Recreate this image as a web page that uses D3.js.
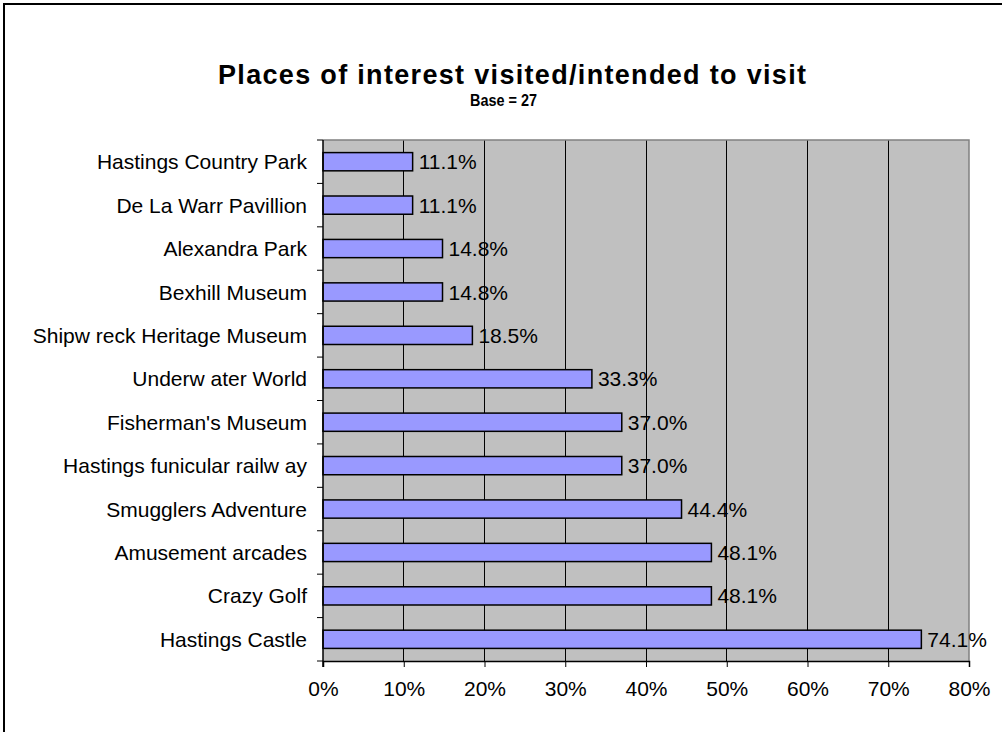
<!DOCTYPE html>
<html>
<head>
<meta charset="utf-8">
<script src="https://cdn.jsdelivr.net/npm/d3@7"></script>
<style>
  html, body { margin: 0; padding: 0; background: #ffffff; }
  svg { display: block; }
  text { font-family: "Liberation Sans", Arial, sans-serif; }
</style>
</head>
<body>
<svg id="chart" width="1002" height="732"></svg>
<script>
const titleText = "Places of interest visited/intended to visit";
const subtitleText = "Base = 27";
const categories = [
  "Hastings Country Park",
  "De La Warr Pavillion",
  "Alexandra Park",
  "Bexhill Museum",
  "Shipw reck Heritage Museum",
  "Underw ater World",
  "Fisherman's Museum",
  "Hastings funicular railw ay",
  "Smugglers Adventure",
  "Amusement arcades",
  "Crazy Golf",
  "Hastings Castle"
];
const values = [11.1, 11.1, 14.8, 14.8, 18.5, 33.3, 37.0, 37.0, 44.4, 48.1, 48.1, 74.1];
const xTicks = [0, 10, 20, 30, 40, 50, 60, 70, 80];

const svg = d3.select("#chart");
const plot = { left: 323, right: 969, top: 140, bottom: 661 };

// outer frame (only top & left edges visible)
svg.append("rect")
  .attr("x", 4).attr("y", 4)
  .attr("width", 1200).attr("height", 1200)
  .attr("fill", "none").attr("stroke", "#000").attr("stroke-width", 2);

// title
svg.append("text")
  .attr("x", 218).attr("y", 84)
  .attr("font-size", 27).attr("font-weight", "bold")
  .attr("textLength", 588).attr("lengthAdjust", "spacing")
  .text(titleText);
svg.append("text")
  .attr("x", 470).attr("y", 106)
  .attr("font-size", 17).attr("font-weight", "bold")
  .attr("textLength", 67).attr("lengthAdjust", "spacingAndGlyphs")
  .text(subtitleText);

const x = d3.scaleLinear().domain([0, 80]).range([plot.left, plot.right]);
const y = d3.scaleBand().domain(categories).range([plot.top, plot.bottom]).paddingInner(0.58).paddingOuter(0.29);
const yb = d3.scaleBand().domain(categories).range([plot.top, plot.bottom]);

// plot background
svg.append("rect")
  .attr("x", plot.left).attr("y", plot.top)
  .attr("width", plot.right - plot.left).attr("height", plot.bottom - plot.top)
  .attr("fill", "#c0c0c0");

// gridlines
svg.append("g").selectAll("line")
  .data(xTicks.filter(t => t > 0 && t < 80))
  .join("line")
  .attr("x1", d => x(d)).attr("x2", d => x(d))
  .attr("y1", plot.top).attr("y2", plot.bottom)
  .attr("stroke", "#000").attr("stroke-width", 1).attr("shape-rendering", "crispEdges");

// plot border top/right (gray)
svg.append("path")
  .attr("d", `M${plot.left},${plot.top}H${plot.right}V${plot.bottom}`)
  .attr("fill", "none").attr("stroke", "#808080").attr("stroke-width", 1.5);

// bars
svg.append("g").selectAll("rect")
  .data(values)
  .join("rect")
  .attr("x", x(0))
  .attr("y", (d, i) => y(categories[i]))
  .attr("width", d => x(d) - x(0))
  .attr("height", y.bandwidth())
  .attr("fill", "#9999ff")
  .attr("stroke", "#000").attr("stroke-width", 1.5);

// data labels
svg.append("g").selectAll("text")
  .data(values)
  .join("text")
  .attr("x", d => x(d) + 6)
  .attr("y", (d, i) => y(categories[i]) + y.bandwidth() / 2)
  .attr("dy", "0.36em")
  .attr("font-size", 21)
  .text(d => d.toFixed(1) + "%");

// x axis
const xAxis = d3.axisBottom(x).tickValues(xTicks).tickFormat(d => d + "%").tickSize(6).tickPadding(14);
const gx = svg.append("g").attr("transform", `translate(0,${plot.bottom})`).call(xAxis);
gx.select(".domain").attr("stroke", "#000").attr("stroke-width", 1.5);
gx.selectAll(".tick line").attr("stroke", "#000");
gx.selectAll("text").attr("font-size", 21).attr("fill", "#000").attr("font-family", "'Liberation Sans', Arial, sans-serif");

// y axis: ticks at band boundaries
const gy = svg.append("g").attr("transform", `translate(${plot.left},0)`);
gy.append("line").attr("x1", 0).attr("x2", 0).attr("y1", plot.top).attr("y2", plot.bottom + 6)
  .attr("stroke", "#000").attr("stroke-width", 1.5);
const bounds = categories.map(c => yb(c)).concat([plot.bottom]);
gy.selectAll("line.tk").data(bounds).join("line").attr("class", "tk")
  .attr("x1", -6).attr("x2", 0).attr("y1", d => d).attr("y2", d => d)
  .attr("stroke", "#000").attr("stroke-width", 1);
gy.selectAll("text").data(categories).join("text")
  .attr("x", -16)
  .attr("y", d => yb(d) + yb.bandwidth() / 2)
  .attr("dy", "0.36em")
  .attr("text-anchor", "end")
  .attr("font-size", 21)
  .text(d => d);
</script>
</body>
</html>
